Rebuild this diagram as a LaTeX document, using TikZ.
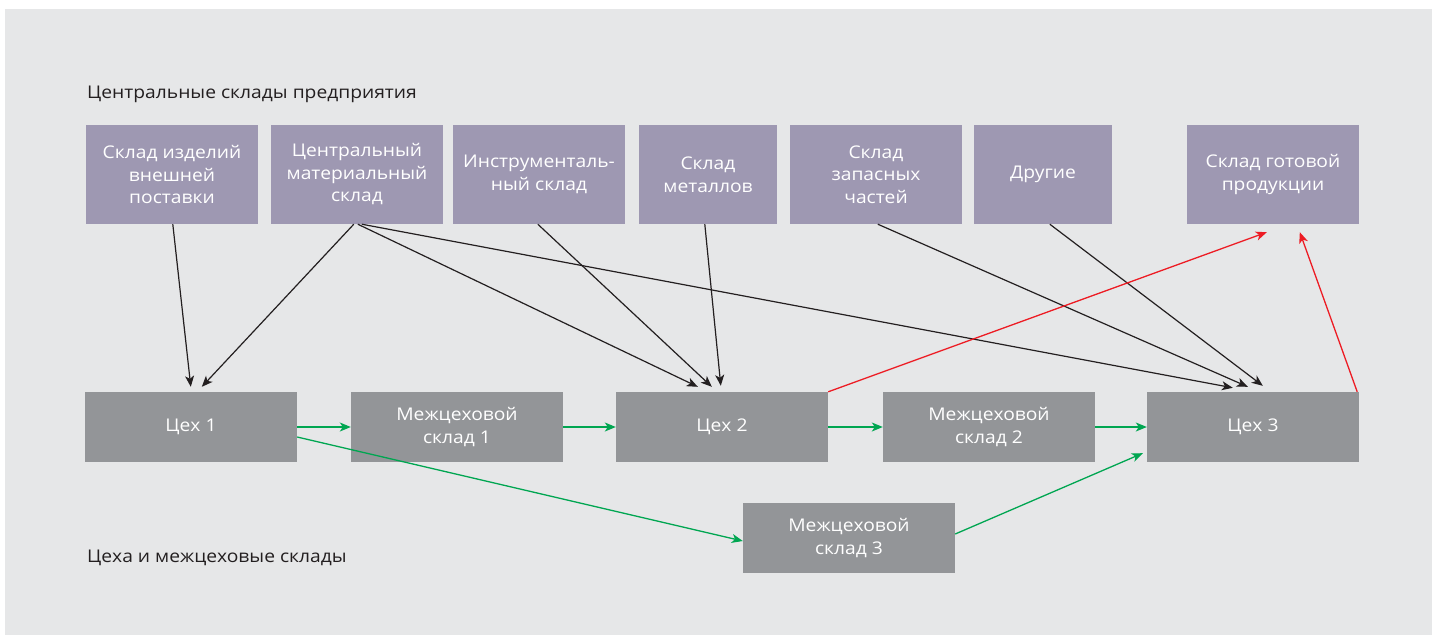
\documentclass[tikz,border=0pt]{standalone}
\usepackage{fontspec}
\setmainfont[FakeStretch=1.1]{Open Sans}
\usetikzlibrary{arrows.meta,calc}
\definecolor{bggray}{HTML}{E6E7E8}
\definecolor{boxpurple}{HTML}{9E98B2}
\definecolor{boxgray}{HTML}{939598}
\definecolor{inkdark}{HTML}{231F20}
\definecolor{flowgreen}{HTML}{00A651}
\definecolor{flowred}{HTML}{ED1C24}
\tikzset{
  topbox/.style={fill=boxpurple, text=white, align=center, inner sep=0pt,
    minimum height=99pt, font=\fontsize{17.5}{22.5}\selectfont},
  shopbox/.style={fill=boxgray, text=white, align=center, inner sep=0pt,
    minimum width=212pt, minimum height=70pt, font=\fontsize{17.5}{22.5}\selectfont},
  caption/.style={text=inkdark, anchor=base west, inner sep=0pt, font=\fontsize{17.5}{20}\selectfont},
  supply/.style={draw=inkdark, line width=1.2pt, -{Stealth[length=11pt,width=9pt,inset=3pt]}},
  flowg/.style={draw=flowgreen, line width=1.3pt, -{Stealth[length=11pt,width=9pt,inset=3pt]}},
  flowr/.style={draw=flowred, line width=1.3pt, -{Stealth[length=11pt,width=9pt,inset=3pt]}},
}
\begin{document}
\begin{tikzpicture}[x=1pt,y=-1pt]
\useasboundingbox (0,0) rectangle (1432,635);
\fill[white] (0,0) rectangle (1432,635);
\fill[bggray] (5,9) rectangle (1432,635);

\node[caption] (t1) at (87,98) {Центральные склады предприятия};
\node[caption] (t2) at (87,562) {Цеха и межцеховые склады};

\node[topbox, minimum width=172pt] (b1) at (172,174.5) {Склад изделий\\внешней\\поставки};
\node[topbox, minimum width=172pt] (b2) at (357,174.5) {Центральный\\материальный\\склад};
\node[topbox, minimum width=172pt] (b3) at (539,174.5) {Инструменталь-\\ный склад};
\node[topbox, minimum width=138pt] (b4) at (708,174.5) {Склад\\металлов};
\node[topbox, minimum width=172pt] (b5) at (876,174.5) {Склад\\запасных\\частей};
\node[topbox, minimum width=138pt] (b6) at (1043,174.5) {Другие};
\node[topbox, minimum width=172pt] (b7) at (1273,174.5) {Склад готовой\\продукции};

\node[shopbox] (c1) at (191,427) {Цех 1};
\node[shopbox] (m1) at (457,427) {Межцеховой\\склад 1};
\node[shopbox] (c2) at (722,427) {Цех 2};
\node[shopbox] (m2) at (989,427) {Межцеховой\\склад 2};
\node[shopbox] (c3) at (1253,427) {Цех 3};
\node[shopbox] (m3) at (849,538) {Межцеховой\\склад 3};

% supply arrows
\draw[supply] ($(b1.south west)+(87,0)$) -- ($(c1.north west)+(106,-5)$);
\draw[supply] ($(b2.south west)+(83,0)$) -- ($(c1.north west)+(117,-5)$);
\draw[supply] ($(b2.south west)+(87,0)$) -- ($(c2.north west)+(82,-5)$);
\draw[supply] ($(b2.south west)+(91,0)$) -- ($(c3.north west)+(86,-4)$);
\draw[supply] ($(b3.south west)+(85,0)$) -- ($(c2.north west)+(96,-5)$);
\draw[supply] ($(b4.south west)+(66,0)$) -- ($(c2.north west)+(105,-6)$);
\draw[supply] ($(b5.south west)+(88,0)$) -- ($(c3.north west)+(101,-5)$);
\draw[supply] ($(b6.south west)+(76,0)$) -- ($(c3.north west)+(116,-6)$);

% finished goods
\draw[flowr] (c2.north east) -- ($(b7.south west)+(80,8)$);
\draw[flowr] ($(c3.north east)+(-2,0)$) -- ($(b7.south west)+(113,8)$);

% material flow
\draw[flowg] (c1.east) -- (m1.west);
\draw[flowg] (m1.east) -- (c2.west);
\draw[flowg] (c2.east) -- (m2.west);
\draw[flowg] (m2.east) -- (c3.west);
\draw[flowg] ($(c1.east)+(0,10)$) -- ($(m3.west)+(0,3)$);
\draw[flowg] ($(m3.east)+(0,-4)$) -- ($(c3.south west)+(-4,-9)$);
\end{tikzpicture}
\end{document}
